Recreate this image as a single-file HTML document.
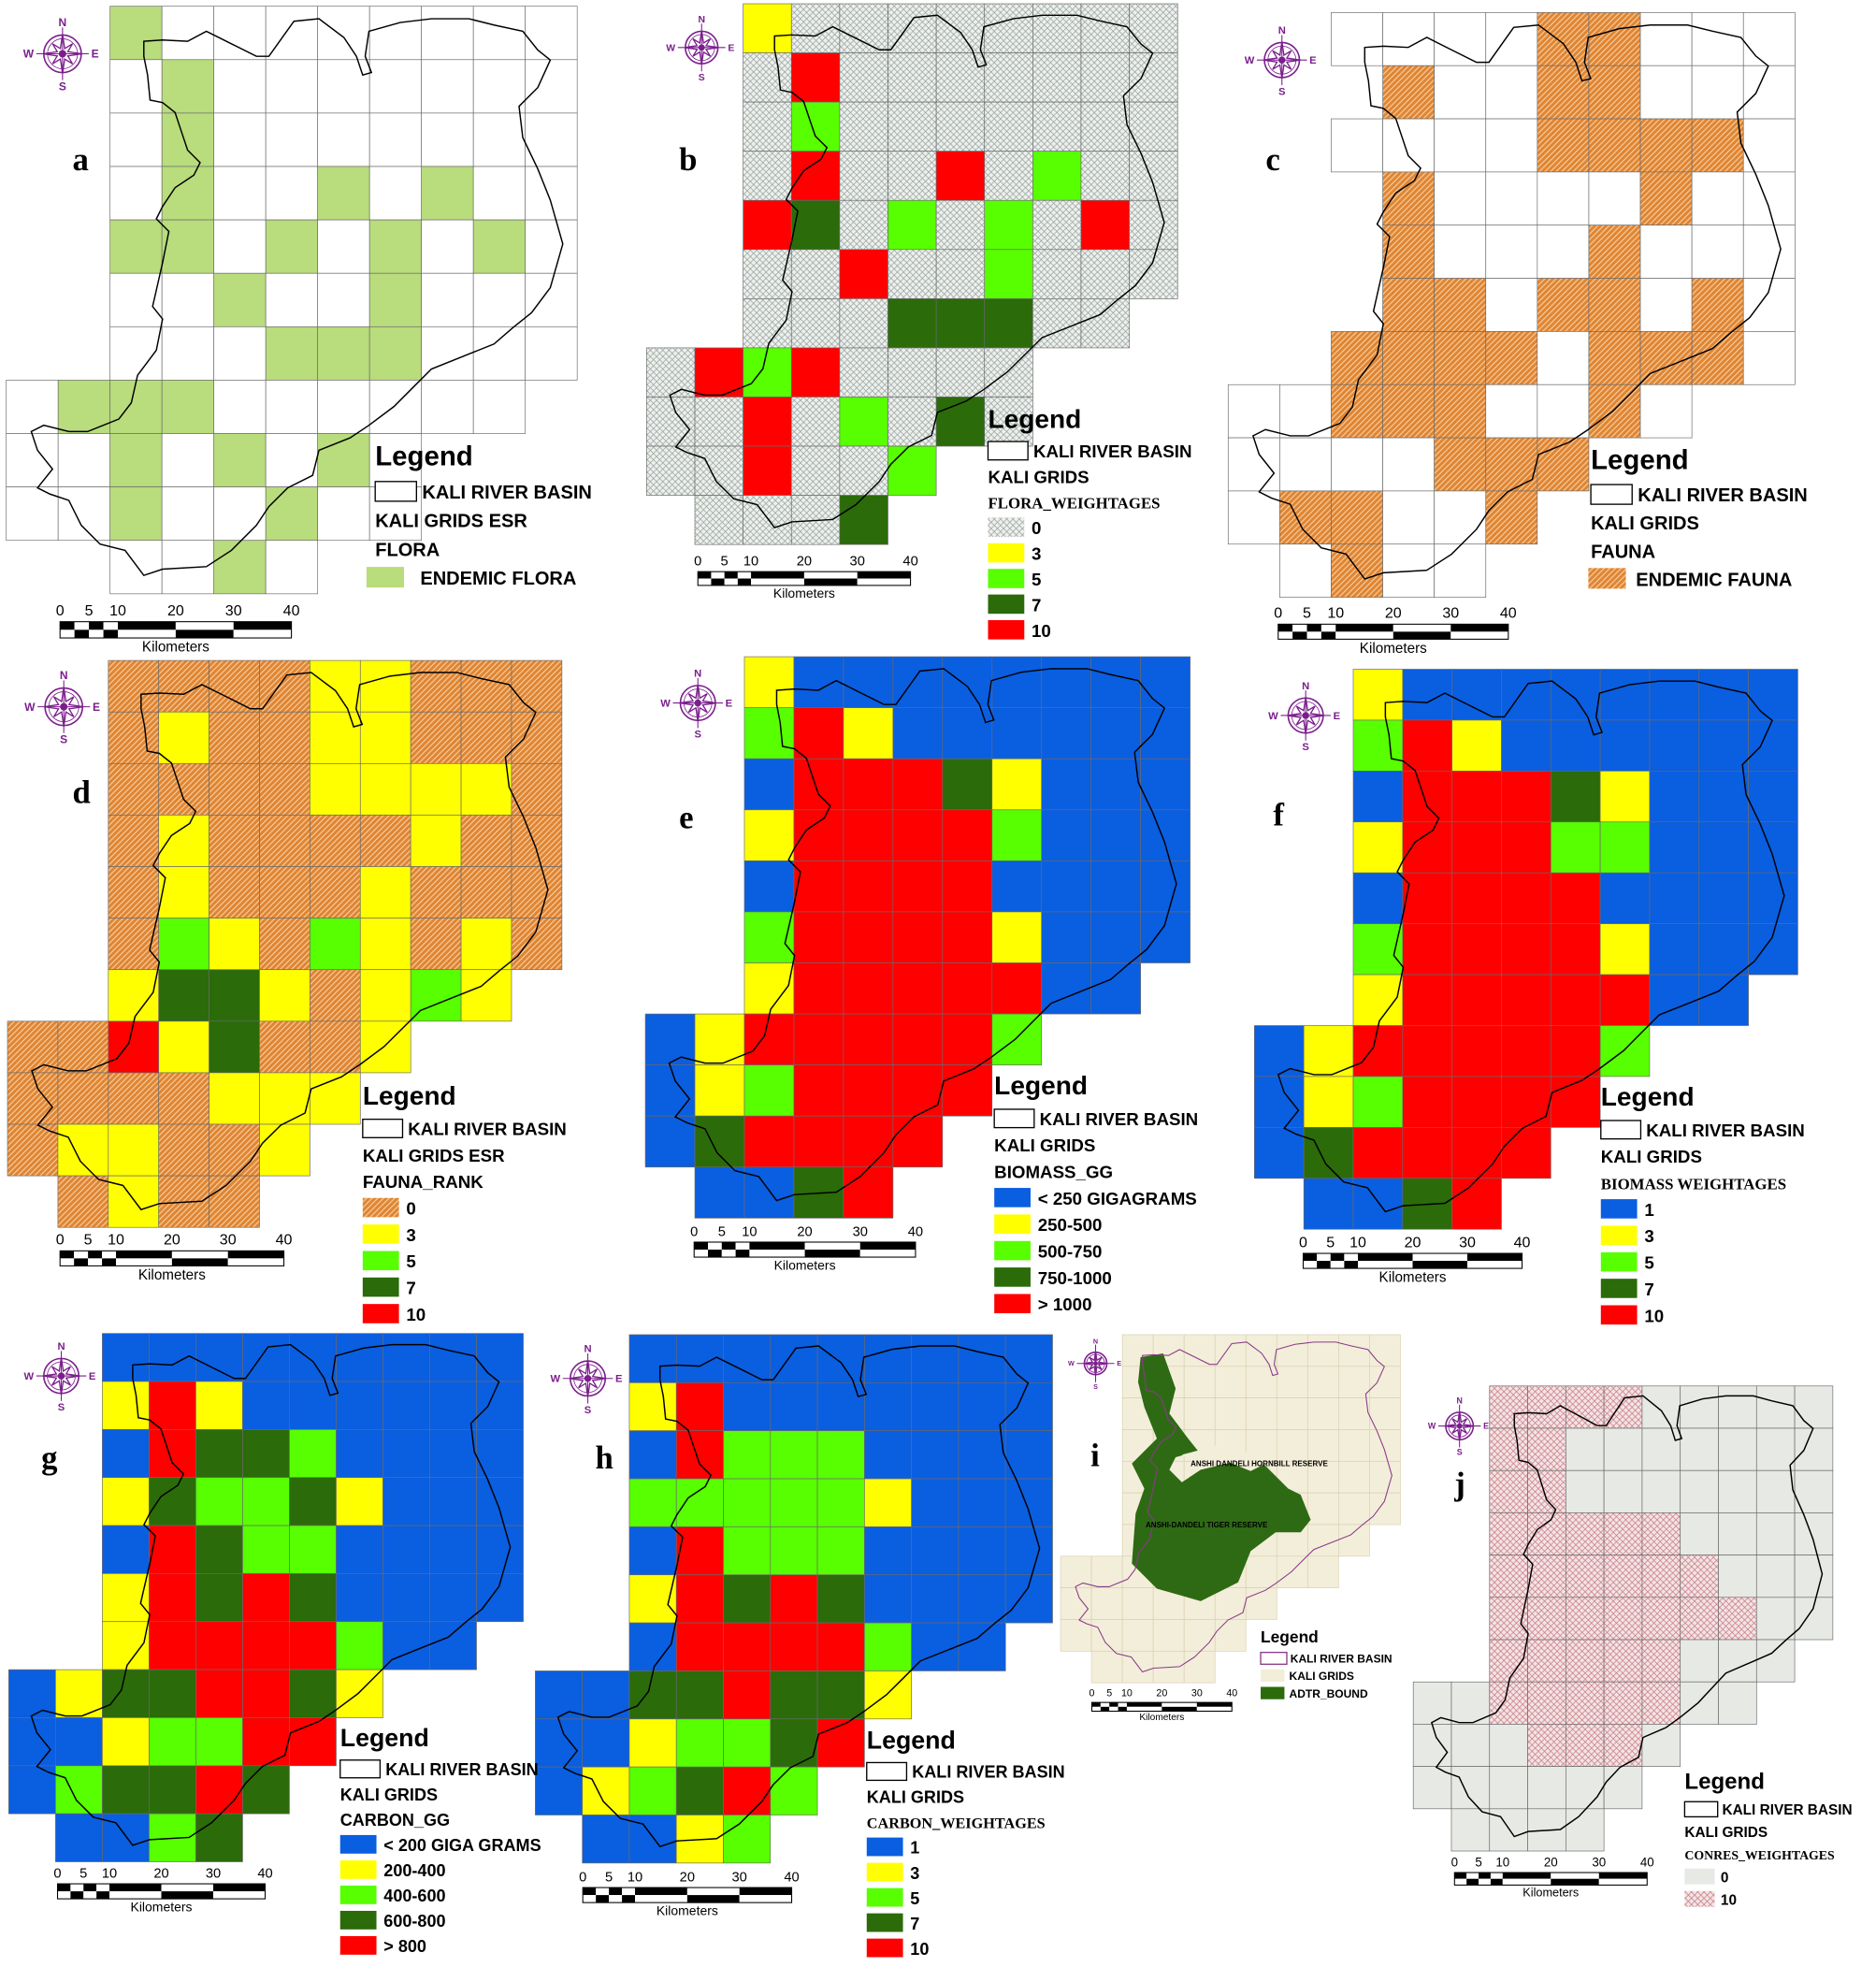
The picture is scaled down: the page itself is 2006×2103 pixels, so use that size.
<!DOCTYPE html>
<html><head><meta charset="utf-8"><style>
html,body{margin:0;padding:0;background:#fff}
svg{display:block}
</style></head><body>
<svg id="s" xmlns="http://www.w3.org/2000/svg" width="2006" height="2103" viewBox="0 0 1500 1572.5" preserveAspectRatio="none" font-family="Liberation Sans, sans-serif">
<defs>
<pattern id="ph" width="5" height="5" patternUnits="userSpaceOnUse"><rect width="5" height="5" fill="#eef0ee"/><path d="M0 0L5 5M5 0L0 5" stroke="#8e9c94" stroke-width="0.5"/></pattern>
<pattern id="po" width="4.5" height="4.5" patternUnits="userSpaceOnUse"><rect width="4.5" height="4.5" fill="#e08532"/><path d="M-1 5.5L5.5 -1M-1 1L1 -1M3.5 5.5L5.5 3.5" stroke="#f6d2a8" stroke-width="0.8"/></pattern>
<pattern id="pp" width="5" height="5" patternUnits="userSpaceOnUse"><rect width="5" height="5" fill="#f3e4e4"/><path d="M0 0L5 5M5 0L0 5" stroke="#c4707a" stroke-width="0.5"/></pattern>
</defs>
</svg>
<script>
const S=document.getElementById('s');const NS='http://www.w3.org/2000/svg';
function el(t,a,txt){const e=document.createElementNS(NS,t);for(const k in a)e.setAttribute(k,a[k]);if(txt!=null)e.textContent=txt;S.appendChild(e);return e;}
const COL={l:'#b9dc7c',y:'#ffff00',g:'#57ff00',d:'#2b6b0a',r:'#ff0000',b:'#0a5ee0',h:'url(#ph)',o:'url(#po)',p:'url(#pp)',e:'#f3eed9',s:'#e7e9e5','.':'#ffffff'};
const SERIF='Liberation Serif, serif';
const P={
a:{x0:5,y0:5,cw:41.5,ch:42.7,rows:["  l........","  .l.......","  .l.......","  .l..l.l..","  ll.l.l.l.","  ..l..l...","  ...lll...",".lll......","..l.l.l.","..l..l..","  ..l."]},
b:{x0:517,y0:3,cw:38.6,ch:39.3,rows:["  yhhhhhhhh","  hrhhhhhhh","  hghhhhhhh","  hrhhrhghh","  rdhghghrh","  hhrhhghhh","  hhhdddhh","hrgrhhhh","hhrhghdh","hhrhhg"," hhhd"]},
c:{x0:982,y0:10,cw:41.2,ch:42.5,rows:["  ....oo...","   o..oo...","  ....oooo.","   o....o..","   o...o...","   oo.oo.o.","  oooo.ooo.","..ooo..o.","....ooo",".oo..o"," .o.."]},
d:{x0:6,y0:528,cw:40.3,ch:41.2,rows:["  ooooyyooo","  oyooyyooo","  ooooyyyyo","  oyooooyoo","  oyoooyooo","  ogyogyoyo","  yddyoygy","oorydooy","ooooyyy","oyyooy"," oyoo"]},
e:{x0:516,y0:525,cw:39.6,ch:40.8,rows:["  ybbbbbbbb","  grybbbbbb","  brrrdybbb","  yrrrrgbbb","  brrrrbbbb","  grrrrybbb","  yrrrrrbb","byrrrrrg","bygrrrr","bdrrrr"," bbdr"]},
f:{x0:1003,y0:535,cw:39.5,ch:40.7,rows:["  ybbbbbbbb","  grybbbbbb","  brrrdybbb","  yrrrggbbb","  brrrrbbbb","  grrrrybbb","  yrrrrrbb","byrrrrrg","bygrrrr","bdrrrr"," bbdr"]},
g:{x0:7,y0:1066,cw:37.4,ch:38.4,rows:["  bbbbbbbbb","  yrybbbbbb","  brddgbbbb","  ydggdybbb","  brdggbbbb","  yrdrdbbbb","  yrrrrgbb","byddrrdy","bbyggrr","bgddrd"," bbgd"]},
h:{x0:428,y0:1067,cw:37.6,ch:38.4,rows:["  bbbbbbbbb","  yrbbbbbbb","  brgggbbbb","  gggggybbb","  brgggbbbb","  yrdrdbbbb","  brrrrgbb","bbddrddy","bbyggdr","bygdrg"," bbyg"]},
i:{x0:848,y0:1067,cw:24.7,ch:25.3,rows:["  eeeeeeeee","  eeeeeeeee","  eeeeeeeee","  eeeeeeeee","  eeeeeeeee","  eeeeeeeee","  eeeeeeee","eeeeeeeee","eeeeeee","eeeeee"," eeee"]},
j:{x0:1130,y0:1108,cw:30.5,ch:33.8,rows:["  ppppsssss","  ppsssssss","  ppsssssss","  pppppssss","  ppppppsss","  pppppppss","  pppppsss","sspppppss","sssppps","ssssss"," ssss"]}
};
const OUT=[[115,33],[130,32],[150,33],[165,25],[185,35],[205,45],[215,45],[235,17],[255,15],[275,30],[285,45],[290,60],[297,58],[292,45],[295,25],[320,18],[345,15],[375,15],[395,20],[418,25],[430,40],[440,48],[430,70],[415,85],[418,110],[430,135],[440,160],[450,195],[440,230],[425,250],[410,262],[395,275],[375,283],[345,295],[330,310],[315,325],[295,340],[280,350],[255,360],[250,380],[230,390],[215,405],[205,420],[185,440],[165,453],[130,455],[115,460],[100,440],[80,435],[65,420],[55,400],[40,395],[30,390],[42,375],[30,360],[25,345],[35,340],[55,345],[70,345],[95,335],[105,322],[110,300],[125,280],[130,255],[122,245],[125,232],[130,210],[135,185],[125,175],[130,165],[140,150],[155,140],[160,130],[150,120],[145,105],[140,90],[130,82],[120,80],[118,60],[115,45]];
for(const k in P){const p=P[k];
 p.rows.forEach((row,r)=>{for(let c=0;c<row.length;c++){const ch=row[c];if(ch===' ')continue;
  el('rect',{x:p.x0+c*p.cw,y:p.y0+r*p.ch,width:p.cw,height:p.ch,fill:COL[ch],stroke:k=='i'?'#d8d0b0':'#6a6a6a','stroke-width':0.5});}});
 if(k=='i'){el('polygon',{points:"912,1085 930,1082 940,1110 935,1130 950,1150 958,1160 940,1165 935,1175 945,1185 960,1175 990,1168 1010,1170 1020,1180 1030,1190 1040,1195 1048,1215 1040,1225 1020,1225 1000,1240 990,1265 960,1280 925,1270 905,1250 908,1210 915,1190 905,1170 915,1160 925,1150 915,1125 910,1105",fill:'#2e6a14'});
  el('polygon',{points:"945,1163 975,1155 995,1160 1012,1170 1000,1176 980,1168 958,1170",fill:'#f3eed9'});}
 const d=OUT.map((q,i)=>(i?'L':'M')+(p.x0+(q[0]-5)/41.5*p.cw).toFixed(1)+' '+(p.y0+(q[1]-5)/42.7*p.ch).toFixed(1)).join('')+'Z';
 el('path',{d:d,fill:'none',stroke:k=='i'?'#8a3a8a':'#000','stroke-width':k=='i'?0.8:1.1});
}
el('text',{x:952,y:1172,'font-size':6,'font-weight':'bold'},'ANSHI DANDELI HORNBILL RESERVE');
el('text',{x:916,y:1221,'font-size':6,'font-weight':'bold'},'ANSHI-DANDELI TIGER RESERVE');
function comp(cx,cy,r){const c='#7b1f8c';
 el('circle',{cx:cx,cy:cy,r:r,fill:'none',stroke:c,'stroke-width':1.2});
 el('circle',{cx:cx,cy:cy,r:r*0.8,fill:'none',stroke:c,'stroke-width':0.6});
 let pts=[];for(let i=0;i<16;i++){const a=i*Math.PI/8-Math.PI/2;const rr=i%4==0?r*1.05:(i%2==0?r*0.75:r*0.3);pts.push((cx+rr*Math.cos(a)).toFixed(1)+','+(cy+rr*Math.sin(a)).toFixed(1));}
 el('polygon',{points:pts.join(' '),fill:'#fff',stroke:c,'stroke-width':1});
 el('circle',{cx:cx,cy:cy,r:r*0.2,fill:c});
 el('path',{d:`M${cx} ${cy-r-6}V${cy+r+6}M${cx-r-6} ${cy}H${cx+r+6}`,stroke:c,'stroke-width':0.8});
 const fs=r*0.6;
 el('text',{x:cx,y:cy-r-7,'font-size':fs,'font-weight':'bold',fill:c,'text-anchor':'middle'},'N');
 el('text',{x:cx,y:cy+r+7+fs*0.8,'font-size':fs,'font-weight':'bold',fill:c,'text-anchor':'middle'},'S');
 el('text',{x:cx-r-8,y:cy+fs*0.35,'font-size':fs,'font-weight':'bold',fill:c,'text-anchor':'end'},'W');
 el('text',{x:cx+r+8,y:cy+fs*0.35,'font-size':fs,'font-weight':'bold',fill:c},'E');}
[[50,43,15],[561,38,13],[1025,48,14],[51,565,15],[558,562,14],[1044,572,14],[49,1100,14],[470,1102,14],[876,1090,9],[1167,1140,11]].forEach(a=>comp(...a));
[['a',58,136],['b',543,136],['c',1012,136],['d',58,642],['e',543,662],['f',1018,660],['g',33,1174],['h',476,1174],['i',872,1172],['j',1163,1195]].forEach(a=>el('text',{x:a[1],y:a[2],'font-size':26,'font-weight':'bold','font-family':SERIF},a[0]));
function sb(x1,x2,y,h,fs){const w=(x2-x1)/40;const t=[0,2.5,5,7.5,10,20,30,40];
 for(let i=0;i<7;i++){el('rect',{x:x1+t[i]*w,y:y,width:(t[i+1]-t[i])*w,height:h/2,fill:i%2?'#fff':'#000'});el('rect',{x:x1+t[i]*w,y:y+h/2,width:(t[i+1]-t[i])*w,height:h/2,fill:i%2?'#000':'#fff'});}
 el('rect',{x:x1,y:y,width:x2-x1,height:h,fill:'none',stroke:'#000','stroke-width':0.8});
 [0,5,10,20,30,40].forEach(v=>el('text',{x:x1+v*w,y:y-5,'font-size':fs,'text-anchor':'middle'},String(v)));
 el('text',{x:(x1+x2)/2,y:y+h+fs*0.9,'font-size':fs*0.95,'text-anchor':'middle'},'Kilometers');}
sb(48,233,497,13,12);sb(558,728,457,11,11);sb(1022,1206,499,12,12);sb(48,227,1000,12,12);sb(555,732,993,12,11);sb(1042,1217,1002,12,12);sb(46,212,1506,12,11);sb(466,633,1509,12,11);sb(873,985,1361,7,8);sb(1163,1317,1497,10,10);
function leg(x,y,tfs,fs,lines,sw,dy){el('text',{x:x,y:y,'font-size':tfs,'font-weight':'bold'},'Legend');let yy=y+dy*1.15;
 lines.forEach(L=>{if(L.box){el('rect',{x:x,y:yy-fs*0.9,width:sw*1.1,height:fs*1.05,fill:'#fff',stroke:L.c||'#000','stroke-width':1});el('text',{x:x+sw*1.25,y:yy,'font-size':fs,'font-weight':'bold'},L.t);}
  else if(L.sw){el('rect',{x:x-(L.dx||0),y:yy-fs*0.95,width:sw,height:fs*1.1,fill:COL[L.sw]});el('text',{x:x+sw*1.2,y:yy,'font-size':fs,'font-weight':'bold'},L.t);}
  else el('text',{x:x,y:yy,'font-size':L.serif?fs*0.9:fs,'font-weight':'bold','font-family':L.serif?SERIF:'Liberation Sans, sans-serif'},L.t);
  yy+=dy;});}
const B=t=>({box:1,t:t}),T=t=>({t:t}),SE=t=>({t:t,serif:1}),W=(c,t)=>({sw:c,t:t});
leg(300,372,22,15,[B('KALI RIVER BASIN'),T('KALI GRIDS ESR'),T('FLORA'),{sw:'l',t:'ENDEMIC FLORA',dx:7}],30,23);
leg(790,342,21,14,[B('KALI RIVER BASIN'),T('KALI GRIDS'),SE('FLORA_WEIGHTAGES'),W('h','0'),W('y','3'),W('g','5'),W('d','7'),W('r','10')],29,20.5);
leg(1272,375,22,15,[B('KALI RIVER BASIN'),T('KALI GRIDS'),T('FAUNA'),{sw:'o',t:'ENDEMIC FAUNA',dx:2}],30,22.5);
leg(290,883,21,14,[B('KALI RIVER BASIN'),T('KALI GRIDS ESR'),T('FAUNA_RANK'),W('o','0'),W('y','3'),W('g','5'),W('d','7'),W('r','10')],29,21.2);
leg(795,875,21,14,[B('KALI RIVER BASIN'),T('KALI GRIDS'),T('BIOMASS_GG'),W('b','< 250 GIGAGRAMS'),W('y','250-500'),W('g','500-750'),W('d','750-1000'),W('r','> 1000')],29,21.2);
leg(1280,884,21,14,[B('KALI RIVER BASIN'),T('KALI GRIDS'),SE('BIOMASS WEIGHTAGES'),W('b','1'),W('y','3'),W('g','5'),W('d','7'),W('r','10')],29,21.2);
leg(272,1396,20,13.5,[B('KALI RIVER BASIN'),T('KALI GRIDS'),T('CARBON_GG'),W('b','< 200 GIGA GRAMS'),W('y','200-400'),W('g','400-600'),W('d','600-800'),W('r','> 800')],29,20.2);
leg(693,1398,20,13.5,[B('KALI RIVER BASIN'),T('KALI GRIDS'),SE('CARBON_WEIGHTAGES'),W('b','1'),W('y','3'),W('g','5'),W('d','7'),W('r','10')],29,20.2);
leg(1008,1313,13,9,[{box:1,t:'KALI RIVER BASIN',c:'#8a3a8a'},W('e','KALI GRIDS'),W('d','ADTR_BOUND')],19,14);
leg(1347,1430,18,11.5,[B('KALI RIVER BASIN'),T('KALI GRIDS'),SE('CONRES_WEIGHTAGES'),W('s','0'),W('p','10')],24,18);
</script>
</body></html>
